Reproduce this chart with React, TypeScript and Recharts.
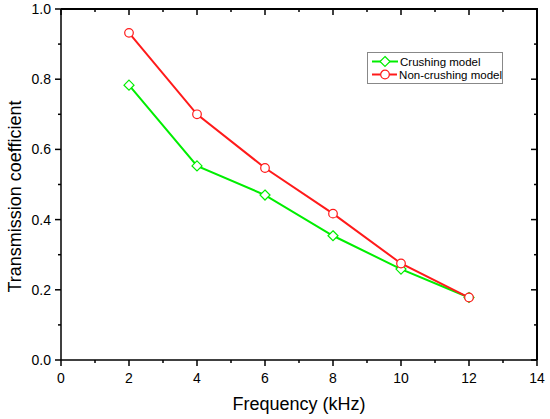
import React from 'react';
import { LineChart, Line, XAxis, YAxis } from 'recharts';

const frequencies = [2, 4, 6, 8, 10, 12];
const crushing = [0.783, 0.553, 0.47, 0.354, 0.259, 0.178];
const nonCrushing = [0.932, 0.7, 0.547, 0.417, 0.275, 0.178];
const xTicks = [0, 1, 2, 3, 4, 5, 6, 7, 8, 9, 10, 11, 12, 13, 14];
const yTicks = [0, 0.1, 0.2, 0.3, 0.4, 0.5, 0.6, 0.7, 0.8, 0.9, 1.0];
const seriesNames = ['Crushing model', 'Non-crushing model'];

const data = frequencies.map((f, i) => ({ f, crushing: crushing[i], nonCrushing: nonCrushing[i] }));

const FONT = 'Liberation Sans, Arial, sans-serif';
const GREEN = '#00ee00';
const RED = '#ff1a1a';
const AXIS_W = 1.5;

const isMajorX = (v: number) => Math.round(v) % 2 === 0;
const isMajorY = (v: number) => Math.round(v * 10) % 2 === 0;

const BottomTick = (p: any) => {
  const major = isMajorX(p.payload.value);
  return (
    <g>
      <line x1={p.x} y1={p.y} x2={p.x} y2={p.y + (major ? 6 : 3)} stroke="#000" strokeWidth={AXIS_W} />
      {major && (
        <text x={p.x} y={p.y + 23} textAnchor="middle" fontSize={14} fontFamily={FONT} fill="#000">
          {p.payload.value}
        </text>
      )}
    </g>
  );
};

const TopTick = (p: any) => {
  const major = isMajorX(p.payload.value);
  const ay = p.y + 8;
  return (
    <g>
      <line x1={p.x} y1={ay} x2={p.x} y2={ay + (major ? 6 : 3)} stroke="#000" strokeWidth={AXIS_W} />
    </g>
  );
};

const LeftTick = (p: any) => {
  const major = isMajorY(p.payload.value);
  return (
    <g>
      <line x1={p.x - (major ? 6 : 3)} y1={p.y} x2={p.x} y2={p.y} stroke="#000" strokeWidth={AXIS_W} />
      {major && (
        <text x={p.x - 10} y={p.y} dy="0.36em" textAnchor="end" fontSize={14} fontFamily={FONT} fill="#000">
          {Number(p.payload.value).toFixed(1)}
        </text>
      )}
    </g>
  );
};

const RightTick = (p: any) => {
  const major = isMajorY(p.payload.value);
  const ax = p.x - 8;
  return (
    <g>
      <line x1={ax - (major ? 6 : 3)} y1={p.y} x2={ax} y2={p.y} stroke="#000" strokeWidth={AXIS_W} />
    </g>
  );
};

const Diamond = (p: any) => {
  const { cx, cy } = p;
  if (cx == null || cy == null) return null;
  const r = 5;
  return (
    <path
      d={`M${cx},${cy - r}L${cx + r},${cy}L${cx},${cy + r}L${cx - r},${cy}Z`}
      fill="#fff"
      stroke={GREEN}
      strokeWidth={1.2}
    />
  );
};

const YLabel = (p: any) => {
  const vb = p.viewBox || {};
  const x = 21;
  const y = (vb.y ?? 9) + (vb.height ?? 351) / 2 + 12;
  return (
    <text x={x} y={y} transform={`rotate(-90, ${x}, ${y})`} textAnchor="middle" fontSize={18} fontFamily={FONT} fill="#000">
      Transmission coefficient
    </text>
  );
};

const LegendBox = () => {
  const row = (color: string, label: string, shape: 'diamond' | 'circle') => (
    <div style={{ display: 'flex', alignItems: 'center', height: 13 }}>
      <svg width={30} height={13} style={{ display: 'block' }}>
        <line x1={4} y1={6.5} x2={30} y2={6.5} stroke={color} strokeWidth={2} />
        {shape === 'diamond' ? (
          <path d="M17,1.5L22,6.5L17,11.5L12,6.5Z" fill="#fff" stroke={color} strokeWidth={1.2} />
        ) : (
          <circle cx={17} cy={6.5} r={4.3} fill="#fff" stroke={color} strokeWidth={1.2} />
        )}
      </svg>
      <span style={{ fontFamily: FONT, fontSize: 11.5, color: '#000', marginLeft: 2, whiteSpace: 'nowrap' }}>{label}</span>
    </div>
  );
  return (
    <div
      style={{
        position: 'absolute',
        left: 367,
        top: 52,
        width: 134,
        height: 28,
        border: '1px solid #888',
        background: '#fff',
        boxSizing: 'content-box',
        paddingTop: 2,
      }}
    >
      {row(GREEN, seriesNames[0], 'diamond')}
      {row(RED, seriesNames[1], 'circle')}
    </div>
  );
};

export default function App() {
  return (
    <div style={{ position: 'absolute', left: 0, top: 0, width: 550, height: 419, background: '#fff' }}>
      <LineChart width={550} height={419} data={data} margin={{ top: 0, right: 0, bottom: 0, left: 0 }}>
        <XAxis
          dataKey="f"
          type="number"
          domain={[0, 14]}
          ticks={xTicks}
          interval={0}
          height={59}
          tickSize={0}
          tickMargin={0}
          tickLine={false}
          tick={(p: any) => <BottomTick {...p} />}
          axisLine={{ stroke: '#000', strokeWidth: AXIS_W }}
          label={{
            value: 'Frequency (kHz)',
            position: 'insideBottom',
            offset: 9,
            style: { fontSize: 18, fontFamily: FONT, fill: '#000' },
          }}
        />
        <XAxis
          xAxisId="top"
          orientation="top"
          dataKey="f"
          type="number"
          domain={[0, 14]}
          ticks={xTicks}
          interval={0}
          height={9}
          stroke="#000"
          tickLine={false}
          tick={(p: any) => <TopTick {...p} />}
        />
        <YAxis
          type="number"
          domain={[0, 1]}
          ticks={yTicks}
          interval={0}
          width={61}
          tickSize={0}
          tickMargin={0}
          tickLine={false}
          tick={(p: any) => <LeftTick {...p} />}
          axisLine={{ stroke: '#000', strokeWidth: AXIS_W }}
          label={<YLabel />}
        />
        <YAxis
          yAxisId="right"
          orientation="right"
          type="number"
          domain={[0, 1]}
          ticks={yTicks}
          interval={0}
          width={13}
          stroke="#000"
          tickLine={false}
          tick={(p: any) => <RightTick {...p} />}
        />
        <Line
          dataKey="crushing"
          name={seriesNames[0]}
          stroke={GREEN}
          strokeWidth={2}
          isAnimationActive={false}
          dot={(p: any) => <Diamond key={`d${p.index}`} {...p} />}
          activeDot={false}
        />
        <Line
          xAxisId="top"
          yAxisId="right"
          dataKey="nonCrushing"
          name={seriesNames[1]}
          stroke={RED}
          strokeWidth={2}
          isAnimationActive={false}
          dot={{ r: 4.3, fill: '#fff', stroke: RED, strokeWidth: 1.2 }}
          activeDot={false}
        />
      </LineChart>
      <div style={{ position: 'absolute', left: 61, top: 8.25, width: 476.75, height: 1.5, background: '#000' }} />
      <div style={{ position: 'absolute', left: 536.25, top: 8.25, width: 1.5, height: 352, background: '#000' }} />
      <LegendBox />
    </div>
  );
}
